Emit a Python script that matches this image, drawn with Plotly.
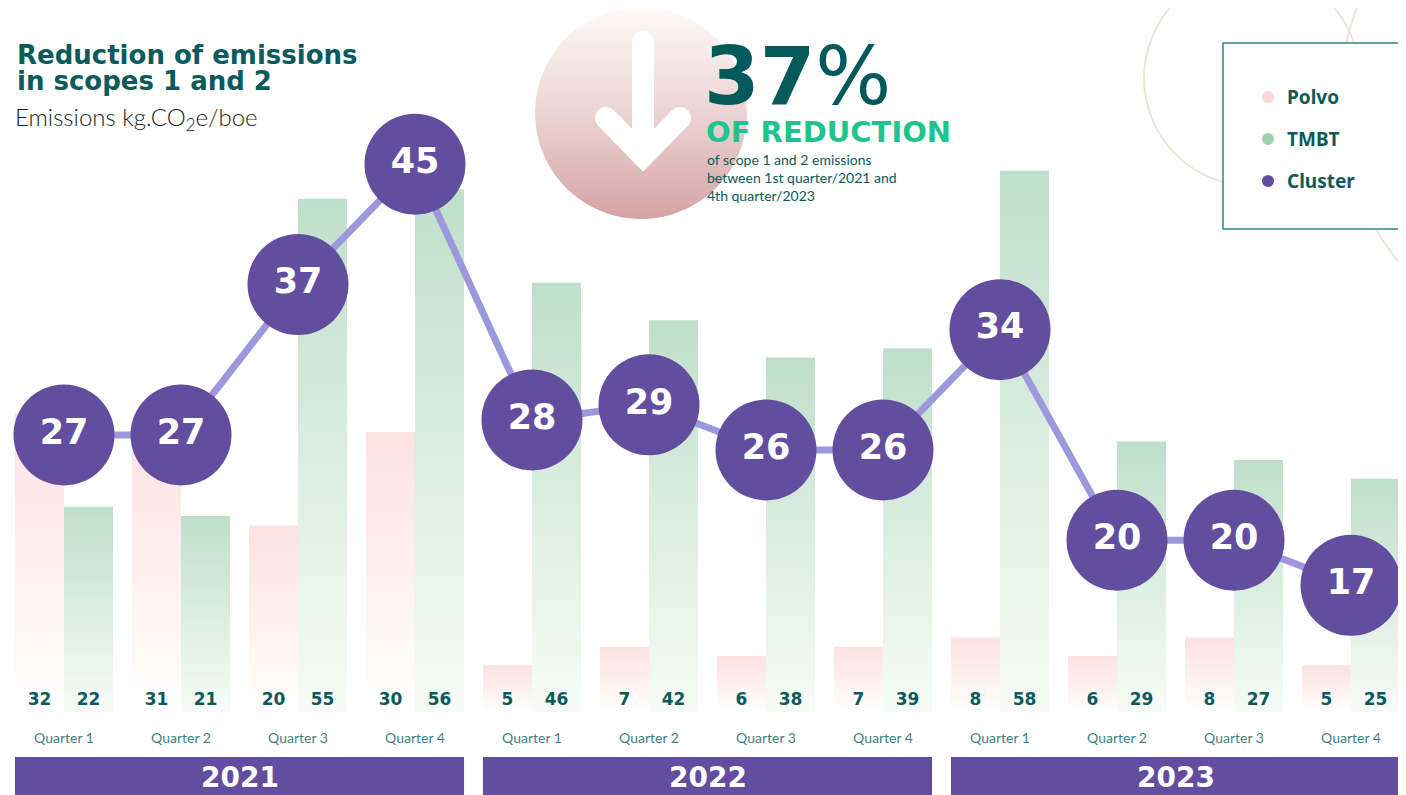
import numpy as np
import plotly.graph_objects as go

# data
quarters = ["Quarter 1", "Quarter 2", "Quarter 3", "Quarter 4"] * 3
years = ["2021", "2022", "2023"]
polvo = [32, 31, 20, 30, 5, 7, 6, 7, 8, 6, 8, 5]
tmbt = [22, 21, 55, 56, 46, 42, 38, 39, 58, 29, 27, 25]
cluster = [27, 27, 37, 45, 28, 29, 26, 26, 34, 20, 20, 17]

# page is 1406x795, the figure sits at the body's 8px margin
PAGE_W, PAGE_H, OFF = 1406, 795, 8
W, H = PAGE_W - OFF, PAGE_H - OFF
TEAL = "#0b5a5c"
PURPLE = "#634d9e"
LINE_PURPLE = "#9d98dc"
PINK_SCALE = [[0, "#ffffff"], [0.55, "#feeeee"], [1, "#fde2e2"]]
GREEN_SCALE = [[0, "#f7fbf8"], [0.55, "#d8ecdf"], [1, "#bfdfca"]]
BAR_W = 49 / 117
LABEL_Y = 1.2

x = np.arange(len(quarters))
fig = go.Figure()


def add_bar(i, v, offset, scale):
    """한 막대를 세로 그라데이션 채움으로 그림"""
    x0 = i + offset
    x1 = x0 + BAR_W
    fig.add_trace(go.Scatter(
        x=[x0, x1, x1, x0, x0], y=[0, 0, v, v, 0],
        mode="lines", fill="toself", line=dict(width=0),
        fillgradient=dict(type="vertical", start=0, stop=v, colorscale=scale),
        hoverinfo="skip", showlegend=False,
    ))


for i in x:
    add_bar(i, polvo[i], -BAR_W, PINK_SCALE)
    add_bar(i, tmbt[i], 0, GREEN_SCALE)

# bar values at the bottom
num_font = dict(family="DejaVu Sans", size=17, color=TEAL, weight="bold")
fig.add_trace(go.Scatter(x=x - BAR_W / 2, y=[LABEL_Y] * len(x), mode="text",
                         text=[str(v) for v in polvo], textfont=num_font,
                         hoverinfo="skip", showlegend=False))
fig.add_trace(go.Scatter(x=x + BAR_W / 2, y=[LABEL_Y] * len(x), mode="text",
                         text=[str(v) for v in tmbt], textfont=num_font,
                         hoverinfo="skip", showlegend=False))

# cluster line with big circles
fig.add_trace(go.Scatter(
    x=x, y=cluster, yaxis="y2", mode="lines+markers+text",
    line=dict(color=LINE_PURPLE, width=7),
    marker=dict(size=101, color=PURPLE, line=dict(width=0)),
    text=[str(v) for v in cluster], textposition="middle center",
    textfont=dict(family="DejaVu Sans", size=35, color="white", weight="bold"),
    hoverinfo="skip", showlegend=False,
))

# decoration in page pixel coordinates: gradient circle and arrow
t = np.linspace(0, 2 * np.pi, 120)
cx, cy, r = 641, 113, 106
fig.add_trace(go.Scatter(
    x=cx + r * np.cos(t), y=cy + r * np.sin(t), xaxis="x3", yaxis="y3",
    mode="lines", fill="toself", line=dict(width=0),
    fillgradient=dict(type="vertical", start=cy - r, stop=cy + r,
                      colorscale=[[0, "#fdfafa"], [0.5, "#ecd4d4"], [1, "#d4a3a3"]]),
    hoverinfo="skip", showlegend=False,
))
for xs, ys in [([643, 643], [42, 152]), ([606, 643, 680], [118, 156, 118])]:
    fig.add_trace(go.Scatter(
        x=xs, y=ys, xaxis="x3", yaxis="y3", mode="lines+markers",
        line=dict(color="white", width=22),
        marker=dict(size=22, color="white"),
        hoverinfo="skip", showlegend=False,
    ))

ann = []
title_font = dict(family="DejaVu Sans", size=26, color=TEAL)
ann.append(dict(x=15, y=55, text="<b>Reduction of emissions</b>",
                xanchor="left", yanchor="middle", font=title_font))
ann.append(dict(x=15, y=81, text="<b>in scopes 1 and 2</b>",
                xanchor="left", yanchor="middle", font=title_font))
ann.append(dict(x=13, y=118, text="Emissions kg.CO<sub>2</sub>e/boe",
                xanchor="left", yanchor="middle", align="left",
                font=dict(family="Lato", size=24, color="#1e1e1e", weight=300)))
ann.append(dict(x=702, y=76, text="<b>37</b>%", xanchor="left", yanchor="middle",
                font=dict(family="DejaVu Sans", size=80, color="#045a5b")))
ann.append(dict(x=704, y=132, text="<b>OF REDUCTION</b>", xanchor="left", yanchor="middle",
                font=dict(family="DejaVu Sans", size=29, color="#1ec48b")))
ann.append(dict(x=705, y=149,
                text="of scope 1 and 2 emissions<br>between 1st quarter/2021 and<br>4th quarter/2023",
                xanchor="left", yanchor="top", align="left",
                font=dict(family="Lato", size=14, color=TEAL)))

# legend
legend_items = [("Polvo", "#fdd6d6"), ("TMBT", "#9dd0ae"), ("Cluster", PURPLE)]
shapes = [
    dict(type="circle", xref="x3", yref="y3", x0=1144, x1=1360, y0=-30, y1=186,
         line=dict(color="#e9e7d8", width=2), layer="below"),
    dict(type="circle", xref="x3", yref="y3", x0=1340, x1=1850, y0=-156, y1=354,
         line=dict(color="#e9e7d8", width=2), layer="below"),
    dict(type="rect", xref="x3", yref="y3", x0=1223, x1=1399, y0=43, y1=229,
         line=dict(color="#2f8585", width=1.5), fillcolor="white", layer="below"),
]
for k, (name, col) in enumerate(legend_items):
    yy = 97 + 42 * k
    shapes.append(dict(type="circle", xref="x3", yref="y3", x0=1262, x1=1274,
                       y0=yy - 6, y1=yy + 6, fillcolor=col, line=dict(width=0)))
    ann.append(dict(x=1285, y=yy, text="<b>" + name + "</b>", xanchor="left", yanchor="middle",
                    font=dict(family="Noto Sans", size=19, color=TEAL)))

# year bands
for k, yr in enumerate(years):
    shapes.append(dict(type="rect", xref="x", yref="y3", x0=4 * k - 0.419, x1=4 * k + 3.419,
                       y0=757, y1=800, fillcolor=PURPLE, line=dict(width=0)))
    ann.append(dict(x=4 * k + 1.5, y=777, xref="x", text="<b>" + yr + "</b>",
                    font=dict(family="DejaVu Sans", size=28, color="white")))

for a in ann:
    a.setdefault("xref", "x3")
    a.update(yref="y3", showarrow=False)

fig.update_layout(
    width=W, height=H, autosize=False,
    margin=dict(l=0, r=0, t=0, b=0, pad=0),
    plot_bgcolor="white", paper_bgcolor="white",
    showlegend=False,
    shapes=shapes, annotations=ann,
    xaxis=dict(range=[(OFF - 64) / 117, (PAGE_W - 64) / 117],
               tickvals=list(x), ticktext=quarters,
               anchor="free", position=1 - (728 - OFF) / H,
               showgrid=False, zeroline=False, showline=False, ticks="",
               tickfont=dict(family="Lato", size=14, color="#3d8283"),
               automargin=False, fixedrange=True),
    yaxis=dict(range=[(712 - PAGE_H) / 9.33, (712 - OFF) / 9.33], showgrid=False,
               zeroline=False, showticklabels=False, automargin=False, fixedrange=True),
    yaxis2=dict(range=[(841 - PAGE_H) / 15.04, (841 - OFF) / 15.04], overlaying="y",
                showgrid=False, zeroline=False, showticklabels=False,
                automargin=False, fixedrange=True),
    xaxis3=dict(range=[OFF, PAGE_W], overlaying="x", anchor="y3", visible=False,
                automargin=False, fixedrange=True),
    yaxis3=dict(range=[PAGE_H, OFF], overlaying="y", anchor="x3", visible=False,
                automargin=False, fixedrange=True),
)

fig.write_html("out.html")
